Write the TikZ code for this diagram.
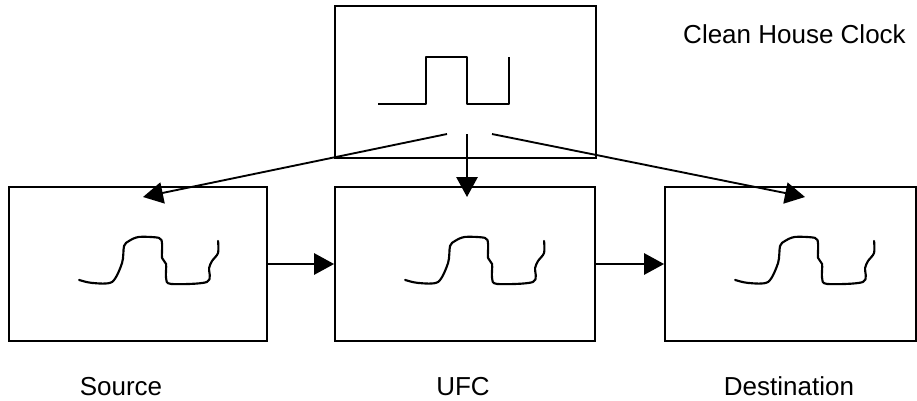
\documentclass[tikz,border=0pt]{standalone}
\usepackage{fontspec}
\setmainfont{Liberation Sans}
\usepackage{tikz}
\usetikzlibrary{arrows.meta,calc}

\tikzset{
 box/.style={draw, line width=1.4pt, inner sep=0pt, minimum height=115.5pt},
 link/.style={line width=1.4pt, -{Triangle[length=15pt,width=16pt]}},
 wave/.style={line width=1.6pt, line join=round, line cap=round},
 lbl/.style={anchor=base, inner sep=0pt, font=\fontsize{19.5}{23}\selectfont}
}

\begin{document}
\begin{tikzpicture}[x=0.75pt,y=-0.75pt]
\useasboundingbox (0,0) rectangle (917,400);
\node [box, minimum width=195.75pt, minimum height=114pt] (clock) at (465.5,82) {};
\node [lbl] (clock-name) at (794.5,43) {Clean House Clock};
\foreach \name/\cx/\w/\tx/\text in {src/138/193.5/121/Source, ufc/465/195/463/UFC, dst/790.5/188.25/789/Destination}{
 \node [box, minimum width=\w pt] (\name) at (\cx,264) {};
 \node [lbl] (\name-name) at (\tx,395) {\text};
 }
% clean clock
\draw [wave, line width=1.4pt, line cap=butt] (378,104) -- (426,104) -- (426,57) -- (467,57) -- (467,104) -- (509,104) -- (509,57);
% dirty copies
\foreach \b in {src,ufc,dst}{
 \draw [wave, shift={(\b.south west)}] plot [smooth, tension=0.5] coordinates {(71,-62) (84,-59) (104,-60) (114,-79) (116,-96) (121,-101) (131,-105) (151,-104) (154,-98) (154,-84) (158,-78) (158,-64) (163,-58) (199,-60) (201,-74) (204,-81) (210,-89) (210,-101)};
 }
\coordinate (tl) at (447,134);
\coordinate (tm) at (467,134);
\coordinate (tr) at (492,134);
\coordinate (el) at (143,197);
\coordinate (em) at (467,197);
\coordinate (er) at (805,197);
\draw [link] (tl) -- (el);
\draw [link] (tm) -- (em);
\draw [link] (tr) -- (er);
\draw [link] (src.east) -- (ufc.west);
\draw [link] (ufc.east) -- (dst.west);
\end{tikzpicture}
\end{document}
